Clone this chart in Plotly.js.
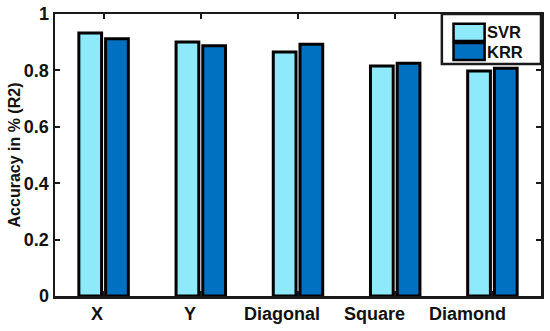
<!DOCTYPE html>
<html>
<head>
<meta charset="utf-8">
<script src="https://cdn.plot.ly/plotly-3.0.1.min.js"></script>
<style>
  html, body { margin: 0; padding: 0; background: #fff; }
  #chart { width: 550px; height: 331px; }
</style>
</head>
<body>
<div id="chart"></div>
<script>
  // values
  var categories = ['X', 'Y', 'Diagonal', 'Square', 'Diamond'];
  var svrValues = [0.933, 0.901, 0.865, 0.816, 0.798];
  var krrValues = [0.912, 0.887, 0.893, 0.825, 0.808];
  var yTicks = [0, 0.2, 0.4, 0.6, 0.8, 1];
  var seriesNames = ['SVR', 'KRR'];
  var seriesColors = ['#8EE9FA', '#0070C0'];

  var font = 'Liberation Sans, Arial, sans-serif';
  var ink = '#111';
  var xIdx = categories.map(function (c, i) { return i; });

  var traces = [svrValues, krrValues].map(function (vals, i) {
    return {
      type: 'bar', name: seriesNames[i], x: xIdx, y: vals,
      marker: { color: seriesColors[i], line: { color: '#000', width: 3 } }
    };
  });

  var axisStyle = {
    showline: true, linecolor: '#1a1a1a', linewidth: 2.5, mirror: 'ticks',
    ticks: 'inside', ticklen: 5, tickwidth: 2, tickcolor: '#1a1a1a',
    showgrid: false, zeroline: false
  };

  // legend box drawn like the original (large swatches, tight box)
  var shapes = [{
    type: 'rect', xref: 'paper', yref: 'paper', x0: 0.796, x1: 1, y0: 0.823, y1: 1,
    line: { color: '#1a1a1a', width: 2.5 }, fillcolor: '#fff', layer: 'above'
  }];
  var annotations = [];
  var swatchY = [[0.904, 0.965], [0.837, 0.897]];
  seriesNames.forEach(function (name, i) {
    shapes.push({
      type: 'rect', xref: 'paper', yref: 'paper', x0: 0.82, x1: 0.884,
      y0: swatchY[i][0], y1: swatchY[i][1],
      line: { color: '#000', width: 2.5 }, fillcolor: seriesColors[i], layer: 'above'
    });
    annotations.push({
      xref: 'paper', yref: 'paper', x: 0.886, y: (swatchY[i][0] + swatchY[i][1]) / 2,
      xanchor: 'left', yanchor: 'middle', showarrow: false, text: name, borderpad: 0,
      font: { family: font, size: 16.5, weight: 'bold', color: ink }
    });
  });

  // category labels: in the original they sit on a slightly narrower spacing
  // than the bar groups (first label 0.07 left of its group, 0.952 apart)
  categories.forEach(function (c, i) {
    annotations.push({
      xref: 'x', yref: 'paper', x: -0.068 + 0.952 * i, y: 0, yshift: -7,
      xanchor: 'center', yanchor: 'top', showarrow: false, text: c, borderpad: 0,
      font: { family: font, size: 18, weight: 'bold', color: ink }
    });
  });

  var layout = {
    width: 550, height: 331,
    margin: { l: 55, r: 9, t: 14, b: 35 },
    paper_bgcolor: '#fff', plot_bgcolor: '#fff',
    font: { family: font, color: ink, size: 18 },
    barmode: 'group', bargap: 0.45, bargroupgap: 0.15,
    showlegend: false,
    shapes: shapes,
    annotations: annotations,
    xaxis: Object.assign({}, axisStyle, {
      range: [-0.5, 4.5], tickvals: xIdx, showticklabels: false
    }),
    yaxis: Object.assign({}, axisStyle, {
      range: [0, 1], tickvals: yTicks, ticktext: ['0', '0.2', '0.4', '0.6', '0.8', '1'],
      tickfont: { family: font, size: 18, weight: 'bold', color: ink },
      title: { text: 'Accuracy in % (R2)', standoff: 0,
        font: { family: font, size: 16, weight: 'bold', color: ink } }
    })
  };

  Plotly.newPlot('chart', traces, layout, { staticPlot: true });
</script>
</body>
</html>
